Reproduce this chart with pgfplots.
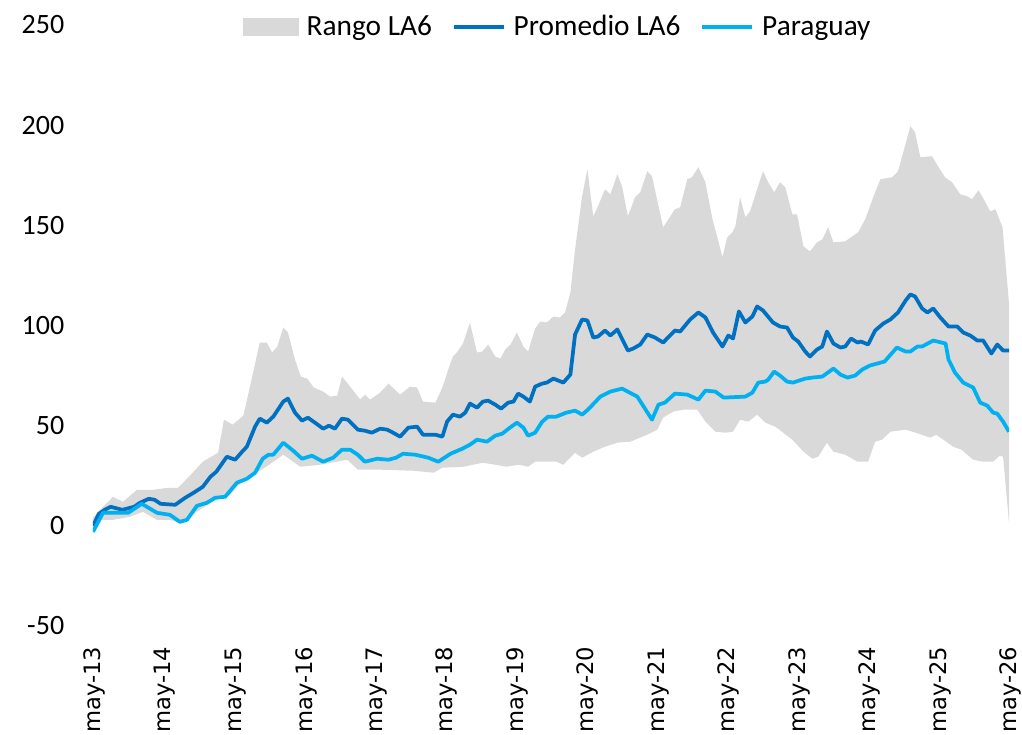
\documentclass[border=0pt]{standalone}
\usepackage{pgfplots}
\pgfplotsset{compat=1.18}
\usepgfplotslibrary{fillbetween}
\usepackage{fontspec}
\setmainfont{Carlito}
\newfontfamily\tickfont{DejaVu Sans}
\definecolor{rangegray}{HTML}{D9D9D9}
\definecolor{promblue}{HTML}{0070C0}
\definecolor{parblue}{HTML}{00B0F0}
\begin{document}
\begin{tikzpicture}
\begin{axis}[
  scale only axis,
  width=687pt, height=450.75pt,
  xmin=0, xmax=156, ymin=-50, ymax=250,
  axis line style={draw=none},
  major tick length=0pt,
  xtick={0,12,24,36,48,60,72,84,96,108,120,132,144,156},
  xticklabels={may-13,may-14,may-15,may-16,may-17,may-18,may-19,may-20,may-21,may-22,may-23,may-24,may-25,may-26},
  ytick={-50,0,50,100,150,200,250},
  yticklabels={-50,0,50,100,150,200,250},
  xticklabel style={font=\tickfont\fontsize{17}{18}\selectfont, inner sep=0pt, yshift=-15.5pt, xshift=1.2pt, rotate=90, anchor=east},
  yticklabel style={font=\fontsize{21}{22}\selectfont, anchor=east, inner sep=0pt, xshift=-21.4pt},
  legend columns=3,
  legend style={draw=none, fill=none, at={(0.508,0.997)}, anchor=center,
    font=\fontsize{22}{24}\selectfont, column sep=0pt,
    /tikz/every odd column/.append style={column sep=4pt},
    /tikz/every even column/.append style={column sep=13pt}},
]
\addplot[name path=upper, draw=none, forget plot] coordinates {
(0,4) (1.2,8) (3.4,14.5) (5.1,12) (7.5,18) (10.2,18) (12.8,19) (14.5,19) (16.5,25) (18.7,32) (21.3,36.5) (22.3,53) (23.8,50.5) (25.6,55) (26.7,69) (28.4,91.5) (29.6,91.5) (30.5,86.5) (31.4,89.5) (32.4,99) (33.2,96.5) (34.4,83) (35.4,74.5) (36.5,73.5) (37.6,69) (39.2,67) (40.4,64.5) (41.6,65) (42.4,74.5) (43.8,69.5) (45.5,63) (46.3,65.5) (47.2,63) (48.9,66.5) (50.3,71) (52.3,65.5) (54,69.5) (55.2,69) (56.2,62) (58.3,61.5) (59.5,69) (60.5,78) (61.3,84.5) (62.1,87) (63,91) (64.2,101.5) (65.4,86.5) (66.3,87) (67.3,90.5) (68.5,84.5) (69.4,83.5) (70.2,88) (71.1,90.5) (72.2,96.5) (73.3,89.5) (74.1,87) (75.3,98.5) (76.2,102) (77.3,101.5) (78.4,104.5) (79.5,104) (80.4,106.5) (81.3,116.5) (82.1,138) (83.3,164.5) (84.2,178) (85.2,154.5) (86,159.5) (87.2,168) (88.1,165.5) (89.3,175.5) (90.1,169.5) (91.1,154.5) (92.3,164) (93.2,166.5) (94.4,177) (95.2,174.5) (97.1,149) (99.1,158) (100,159) (101.2,173) (102,174) (103.1,179) (104.3,171.5) (105.5,153) (106.3,144.5) (107.2,134) (108,144) (108.9,146.5) (109.4,149.5) (110.2,164) (111.1,154) (111.9,157) (113.1,168) (114.1,177) (115,171.5) (116,166.5) (117,171.5) (117.9,169) (119.1,155.5) (119.9,155.5) (121,139.5) (122.1,137) (123.3,141.5) (124.2,143) (125.2,149) (126.1,141.5) (128.1,142) (129.3,144.5) (130.3,146.5) (131.5,153) (133.2,166.5) (134.1,173) (136.1,174) (137.1,177) (138,186.5) (139.2,199.5) (140,196.5) (140.9,184) (142.9,184.5) (143.9,179.5) (145.1,174) (146.3,171.5) (147.7,165.5) (148.9,164.5) (149.7,163) (150.8,167.5) (151.9,162) (152.8,157) (153.7,158) (154.9,149) (156,111)
};
\addplot[name path=lower, draw=none, forget plot] coordinates {
(0,-3) (1.2,3) (3.4,3) (6.3,4.5) (8.5,7) (10.9,3) (13.1,3) (14.8,1.5) (17.4,6.5) (20.6,12.5) (23.3,15.5) (25.6,23) (27.9,26.5) (30,30.5) (32.4,35.5) (35.3,29.5) (38.7,30.5) (43.3,33) (45.1,28) (49.2,28) (54.5,27.5) (58,26.5) (59.5,29) (63.1,29.5) (66.4,31.5) (68.5,30.5) (70.4,29.5) (72.5,30.5) (74.1,29.5) (75.3,32) (78.9,32) (80.1,30.5) (82.1,36.5) (83.3,34) (85.2,37) (87.2,39.5) (89.3,41.5) (91.5,42) (94.4,45.5) (96.1,48) (97.1,54) (98.8,57) (100.5,58) (102.9,58) (104.3,52) (106,47) (107.7,46.5) (109,47) (110.2,53) (111.6,52) (113.1,55.5) (114.5,51.5) (116.2,49.5) (119.1,43) (121,37) (122.5,33.5) (123.5,34.5) (125,41.5) (126.1,37) (128.1,35.5) (130.2,32) (132,32) (133.2,42) (134.4,43) (135.8,47) (138.4,48) (140.1,46.5) (142.6,44) (143.6,45.5) (146.5,39.5) (147.9,38) (149.9,33) (151.6,32) (153.3,32) (154.4,35) (155,34.5) (156,1.5)
};
\addplot[fill=rangegray, draw=none, forget plot] fill between[of=upper and lower];
\addplot[promblue, line width=2.8pt, line join=round, forget plot] coordinates {
(0,0) (1,6) (2,8) (3,9.5) (5,8) (7,9.5) (8,11.5) (9.5,13.5) (10.5,13) (11.5,11) (14,10.5) (15.7,14) (17.4,17) (18.7,19.5) (20,24.5) (21,27) (22.8,34.5) (24.2,33) (25.4,37) (26.2,39.5) (27.6,49.5) (28.4,53.5) (29.6,51.5) (30.7,54.5) (32.4,62) (33.2,63.5) (34.4,56.5) (35.6,52.5) (36.6,54) (37.8,51.5) (39.2,48.5) (40.2,50) (41.2,48.5) (42.4,53.5) (43.4,53) (45.1,48) (46.3,47.5) (47.5,46.5) (48.9,48.5) (50.1,48) (51.1,46.5) (52.3,44.5) (53.7,49) (55.2,49.5) (56.2,45.5) (58.3,45.5) (59.5,44.5) (60.3,52) (61.3,55.5) (62.5,54.5) (63.4,56.5) (64.2,61) (65.4,59) (66.4,62) (67.3,62.5) (68.5,60.5) (69.5,58.5) (70.7,61.5) (71.6,62) (72.4,66) (73.3,64.5) (74.4,62) (75.3,69.5) (76.5,71) (77.3,71.5) (78.4,73.5) (80.1,71.5) (81.3,75.5) (82.1,95.5) (83.3,103) (84.2,102.5) (85.2,94) (86,94.5) (87.2,97.5) (88.1,95) (89.3,98) (91.1,87.5) (92,88.5) (93.2,90.5) (94.4,95.5) (95.7,94) (97.1,91.5) (99.1,97.5) (100,97) (101.7,103) (103.1,106.5) (104.3,104) (105.6,96.5) (107.2,89.5) (108.2,95) (109,93.5) (110,107) (111.1,101.5) (112.3,104.5) (113.1,109.5) (114.1,107.5) (115.8,101.5) (117,99.5) (118.2,99) (119.2,94) (120.1,92) (121.3,87) (122.1,84.5) (123.3,88) (124.2,89.5) (125,97) (126.1,91) (127.3,89) (128.1,89.5) (129.1,93.5) (130.2,91.5) (130.8,92) (132,90.5) (133.2,97.5) (134.6,101) (135.8,103) (137.1,106.5) (138.4,112.5) (139.2,115.5) (140,114.5) (141.2,108.5) (142.1,106.5) (143.1,108.5) (144.3,104) (145.7,99.5) (147.2,99.5) (148.2,96.5) (149.4,95) (150.6,92.5) (151.6,92.5) (153,86) (154,90.5) (155,87.5) (156,87.5)
};
\addplot[parblue, line width=2.8pt, line join=round, forget plot] coordinates {
(0,-3) (1.7,6.5) (3.4,6.5) (6,6.5) (8.3,11) (10.9,6.5) (13.1,5.5) (14.8,2) (16,3) (17.7,10) (19.4,11.5) (20.8,14) (22.5,14.5) (24.5,21.5) (26.2,23.5) (27.6,26.5) (28.9,33.5) (29.9,35.5) (30.7,35.5) (32.4,41.5) (34.1,37.5) (35.6,33.5) (37.3,35) (39.2,32) (40.9,34) (42.4,38) (43.8,38) (45.1,35.5) (46.3,32) (48.4,33.5) (50.3,33) (51.6,34) (52.8,36) (54.9,35.5) (57.1,34) (58.8,32) (60.9,36) (62.9,38.5) (64.2,40.5) (65.4,43) (67.1,42) (68.5,45) (69.7,46) (71,49) (72.2,51.5) (73.3,49) (74.1,45) (75.3,46.5) (76.5,52) (77.5,54.5) (78.9,54.5) (80.6,56.5) (82.1,57.5) (83.3,55.5) (84.3,58) (86.4,64.5) (88.1,67) (90.1,68.5) (92.7,64.5) (95.2,53) (96.3,60.5) (97.4,61.5) (99.1,66) (101.2,65.5) (103.1,63) (104.3,67.5) (106,67) (107.4,64) (111.1,64.5) (112.3,66.5) (113.3,71.5) (114.5,72) (115,73) (116,77) (117,75) (118.2,72) (119.2,71.5) (121.3,73.5) (122.5,74) (124.2,74.5) (126.1,78.5) (127.3,75.5) (128.5,74) (129.8,75) (131,78) (132.3,80) (134.8,82) (136.9,89) (138.4,87) (139.2,87) (140.4,89.5) (141.2,89.5) (143.1,92.5) (145.2,91) (145.7,83) (146.8,76.5) (148.2,71.5) (149.9,69) (151.1,61.5) (152.3,60) (153.3,56.5) (154,56) (155,52) (156,47)
};
\addlegendimage{legend image code/.code={\fill[rangegray] (0pt,-6.5pt) rectangle (41pt,6.5pt);}}
\addlegendentry{Rango LA6}
\addlegendimage{legend image code/.code={\draw[promblue, line width=2.8pt] (0pt,0pt) -- (37.5pt,0pt);}}
\addlegendentry{Promedio LA6}
\addlegendimage{legend image code/.code={\draw[parblue, line width=2.8pt] (0pt,0pt) -- (37.5pt,0pt);}}
\addlegendentry{Paraguay}
\end{axis}
\pgfresetboundingbox
\path[use as bounding box] (-69.75pt,-81.75pt) rectangle (696.75pt,469.5pt);
\end{tikzpicture}
\end{document}
